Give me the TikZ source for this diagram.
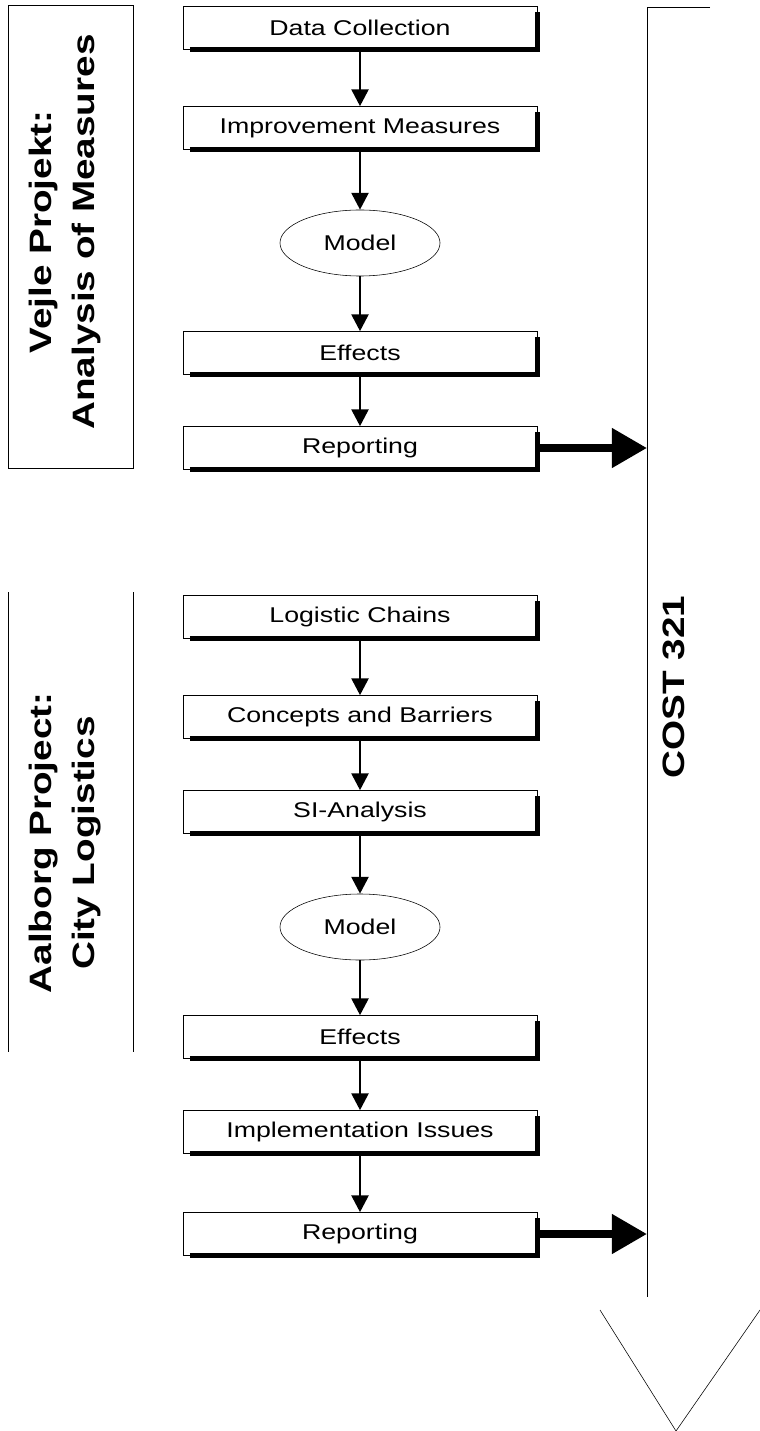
\documentclass[tikz,border=0pt]{standalone}
\usepackage{fontspec}
\setmainfont{Liberation Sans}[FakeStretch=1.25]
\usetikzlibrary{arrows.meta, shapes.geometric}
\tikzset{
	stage/.style={draw, thin, minimum width=8.85cm, minimum height=1.075cm, inner sep=0pt, font=\fontsize{15.2}{17}\selectfont},
	model/.style={draw, thin, ellipse, minimum width=4cm, minimum height=1.65cm, inner sep=0pt, font=\fontsize{15.2}{17}\selectfont},
	shade/.style={line width=3.5pt},
	arrow/.style={line width=2pt, -{Triangle[width=12pt, length=12pt]}},
	report/.style={line width=5.7pt, -{Triangle[width=27pt, length=25pt]}},
	title/.style={rotate=90, align=center, font=\fontsize{22}{30.5}\selectfont\bfseries},
}

\begin{document}
\begin{tikzpicture}[x=0.025cm, y=-0.025cm]
	\useasboundingbox (0,0) rectangle (760,1431);

% Vejle project
		\draw[thin] (8,5) rectangle (133,468);
		\node[title] (vejle) at (65,232) {Vejle Projekt:\\Analysis of Measures};

		\node[stage] (dc) at (360,28) {Data Collection};
		\node[stage] (im) at (360,128) {Improvement Measures};
		\node[model] (md1) at (360,243) {Model};
		\node[stage] (ef1) at (360,353) {Effects};
		\node[stage] (rp1) at (360,448) {Reporting};

		\draw[arrow] (dc) -- (im);
		\draw[arrow] (im) -- (md1);
		\draw[arrow] (md1) -- (ef1);
		\draw[arrow] (ef1) -- (rp1);

% Aalborg project
		\draw[thin] (8,592) -- (8,1052);
		\draw[thin] (133,592) -- (133,1052);
		\node[title] (aalborg) at (65,843) {Aalborg Project:\\City Logistics};

		\node[stage] (lc) at (360,617) {Logistic Chains};
		\node[stage] (cb) at (360,717) {Concepts and Barriers};
		\node[stage] (si) at (360,812) {SI-Analysis};
		\node[model] (md2) at (360,927) {Model};
		\node[stage] (ef2) at (360,1037) {Effects};
		\node[stage] (ii) at (360,1132) {Implementation Issues};
		\node[stage] (rp2) at (360,1234) {Reporting};

		\draw[arrow] (lc) -- (cb);
		\draw[arrow] (cb) -- (si);
		\draw[arrow] (si) -- (md2);
		\draw[arrow] (md2) -- (ef2);
		\draw[arrow] (ef2) -- (ii);
		\draw[arrow] (ii) -- (rp2);

		% heavy bottom and right edges of the boxes
		\foreach \n in {dc, im, ef1, rp1, lc, cb, si, ef2, ii, rp2}
			\draw[shade] ([xshift=0.18cm]\n.south west) -- (\n.south east) -- ([yshift=-0.15cm]\n.north east);

% COST 321
		\draw[thin] (710,7) -- (647,7) -- (647,1297);
		\draw[thin] (600,1310) -- (676,1431) -- (760,1310);
		\node[title] (cost) at (674,687) {COST 321};

		\coordinate (c1) at (647,448);
		\coordinate (c2) at (647,1234);
		\draw[report] (rp1.east) -- (c1);
		\draw[report] (rp2.east) -- (c2);
\end{tikzpicture}
\end{document}
